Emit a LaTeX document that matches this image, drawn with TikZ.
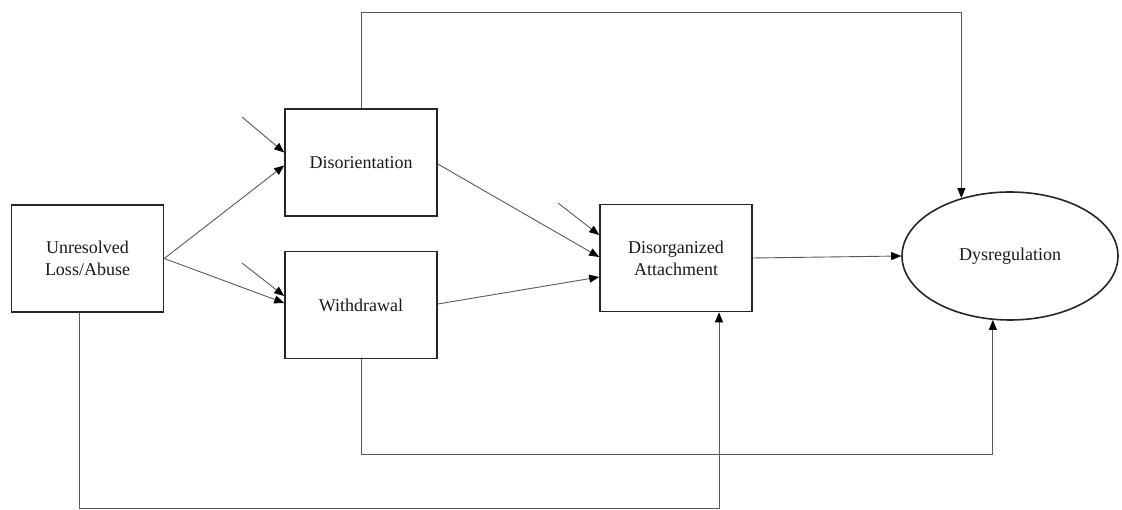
\documentclass[tikz,border=0pt]{standalone}
\usepackage{fontspec}
\setmainfont{Liberation Serif}
\usetikzlibrary{arrows.meta,calc,shapes.geometric}
\begin{document}
\begin{tikzpicture}[x=1pt,y=-1pt,
  label text/.style={font=\fontsize{18}{22}\selectfont, text=black!90},
  box/.style={label text, draw=black!85, line width=1.6pt, minimum width=152pt,
    minimum height=107pt, inner sep=0pt, align=center},
  oval/.style={label text, ellipse, draw=black!85, line width=1.6pt,
    minimum width=216pt, minimum height=128pt, inner sep=0pt},
  conn/.style={draw=black!65, line width=0.9pt,
    -{Triangle[length=10pt,width=8pt,color=black]}},
]
% canvas
\useasboundingbox (0,0) rectangle (1122,510);

% variables
\node[box]  (un)  at (87.5,258.5) {Unresolved\\Loss/Abuse};
\node[box]  (dis) at (361,162.5)  {Disorientation};
\node[box]  (wd)  at (361,305)    {Withdrawal};
\node[box]  (da)  at (676,258)    {Disorganized\\Attachment};
\node[oval] (dys) at (1010,256)   {Dysregulation};

% free ends of the disturbance arrows and routing levels
\coordinate (e1) at (242,117);
\coordinate (e2) at (242,263);
\coordinate (e3) at (558,203);
\coordinate (topy) at (0,12);
\coordinate (midy) at (0,454);
\coordinate (boty) at (0,508);
\coordinate (ub) at ($(un.south)+(-8,0)$);
\coordinate (db) at ($(da.south)+(43,0)$);

% disturbance arrows
\draw[conn] (e1) -- ($(dis.west)+(0,-10)$);
\draw[conn] (e2) -- ($(wd.west)+(0,-9)$);
\draw[conn] (e3) -- ($(da.west)+(0,-23)$);

% direct paths
\draw[conn] (un.east) -- ($(dis.west)+(0,3)$);
\draw[conn] (un.east) -- ($(wd.west)+(0,-2)$);
\draw[conn] ($(dis.east)+(0,1.5)$) -- ($(da.west)+(0,-1)$);
\draw[conn] ($(wd.east)+(0,-1)$) -- ($(da.west)+(0,19)$);
\draw[conn] (da.east) -- (dys.west);

% routed paths
\draw[conn] (dis.north) -- (dis.north |- topy) -| (dys.130.7);
\draw[conn] (wd.south) -- (wd.south |- midy) -| (dys.255.7);
\draw[conn] (ub) -- (ub |- boty) -| (db);
\end{tikzpicture}
\end{document}
